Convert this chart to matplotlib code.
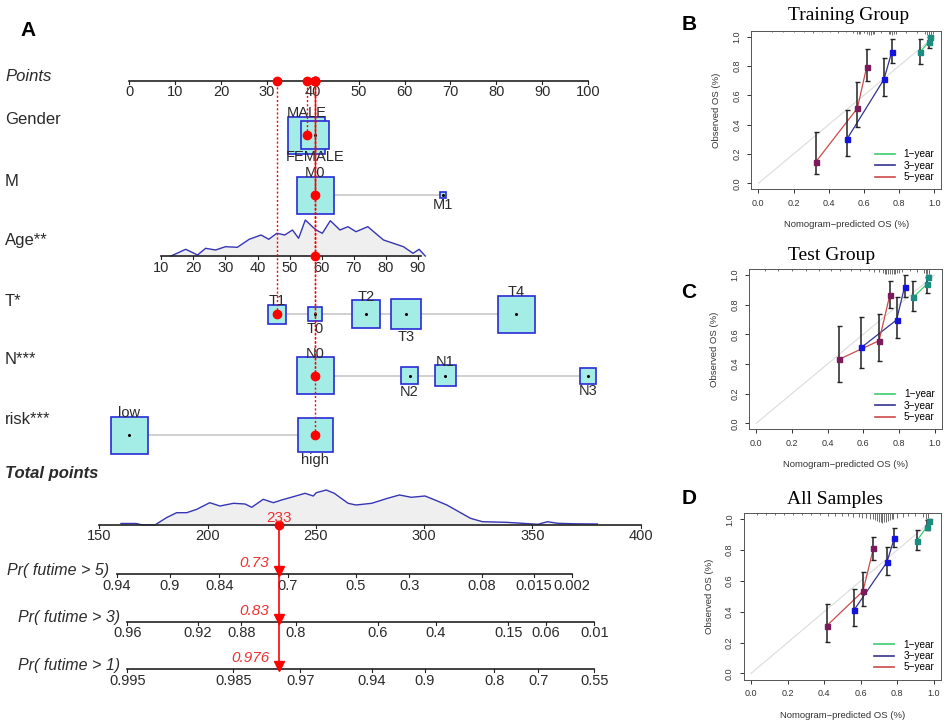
import numpy as np
import matplotlib
matplotlib.use("Agg")
import matplotlib.pyplot as plt
import matplotlib.transforms as mtrans
from matplotlib.patches import Rectangle
from matplotlib.lines import Line2D
from matplotlib.ticker import FormatStrFormatter

plt.rcParams['font.family'] = ['Liberation Sans', 'DejaVu Sans']
NARROW = ['Liberation Sans Narrow', 'Liberation Sans', 'DejaVu Sans']
SERIF = ['Liberation Serif', 'DejaVu Serif']

# ---------------- nomogram data (A) ----------------
points_ticks = list(range(0, 101, 10))

gender_levels = ['MALE', 'FEMALE']
gender_pts = [38.7, 40.5]
gender_n = [300, 172]

m_levels = ['M0', 'M1']
m_pts = [40.5, 68.4]
m_n = [460, 12]

t_levels = ['T1', 'T0', 'T2', 'T3', 'T4']
t_pts = [32.2, 40.5, 51.6, 60.4, 84.4]
t_n = [63, 34, 137, 158, 240]

n_levels = ['N0', 'N2', 'N1', 'N3']
n_pts = [40.5, 61.1, 68.9, 100.0]
n_n = [300, 63, 97, 56]

risk_levels = ['low', 'high']
risk_pts = [0.0, 40.5]
risk_n = [236, 211]

age_coef = 0.699          # points per year
age_ticks = list(range(10, 91, 10))
age_span = [10, 91]
age_x = [13, 17.6, 21.3, 23.8, 26.9, 30, 33.7, 37.4, 41.1, 43.5, 46, 48.5, 50.9, 52.8,
         54.9, 57.1, 58.3, 60.2, 62.7, 65.7, 68.2, 70.7, 74.4, 76.8, 79.3, 81.8, 85.5,
         88.5, 90.4, 92.3]
age_dens = [0, 6.7, 1, 7.7, 6, 9.3, 8.7, 16.7, 21, 16.7, 22.7, 21, 26, 17.7, 36, 29.3,
            26, 22.7, 35.3, 26, 29.3, 24.3, 29.3, 22.7, 16, 13.3, 9.3, 2.7, 6.7, 0]

# selected patient
sel_gender, sel_m, sel_age, sel_t, sel_n, sel_risk = 'MALE', 'M0', 58, 'T1', 'N0', 'high'
total_score = 233

total_ticks = list(range(150, 401, 50))
total_x = [160, 167, 170, 175.7, 181, 185.7, 190.4, 195, 201, 205.7, 212, 217.3, 220.4,
           225.7, 230.4, 234.2, 239.6, 245, 248.8, 250.2, 254.8, 258.5, 264.9, 268.5,
           275.8, 283.1, 288.6, 294.1, 300.4, 305, 310.5, 316, 321.4, 326.9, 337.9,
           345.2, 352.5, 357, 361.6, 370, 380]
total_dens = [1.5, 1.5, 0, 0, 7.3, 12.3, 12.3, 15.7, 22.3, 19, 21.7, 21, 17.7, 25.7,
              22.3, 25, 28.3, 31.7, 29, 32.3, 35, 31.7, 21.7, 20, 21.7, 26.7, 30, 27.7,
              29, 25, 20, 13.3, 6.7, 3.3, 2.7, 1.7, 0.7, 3.3, 1.7, 1.2, 1.0]

pr_names = ['Pr( futime > 5)', 'Pr( futime > 3)', 'Pr( futime > 1)']
pr5_labels = ['0.94', '0.9', '0.84', '0.7', '0.5', '0.3', '0.08', '0.015', '0.002']
pr5_at = [158.0, 182.6, 205.5, 237.1, 268.5, 293.1, 326.5, 350.6, 368.4]
pr3_labels = ['0.96', '0.92', '0.88', '0.8', '0.6', '0.4', '0.15', '0.06', '0.01']
pr3_at = [162.9, 195.4, 215.5, 240.7, 278.5, 305.4, 338.8, 356.1, 378.6]
pr1_labels = ['0.995', '0.985', '0.97', '0.94', '0.9', '0.8', '0.7', '0.55']
pr1_at = [162.9, 211.9, 242.9, 275.8, 300.4, 332.4, 352.8, 378.6]
pr_values = ['0.73', '0.83', '0.976']

# ---------------- calibration data (B, C, D) ----------------
years = ['1\u2212year', '3\u2212year', '5\u2212year']

train_1y = dict(pred=[0.918, 0.97, 0.975], obs=[0.894, 0.966, 0.998], lo=[0.816, 0.925, 0.99], hi=[0.982, 1.0, 1.0])
train_3y = dict(pred=[0.504, 0.714, 0.758], obs=[0.302, 0.709, 0.894], lo=[0.186, 0.595, 0.818], hi=[0.50, 0.853, 0.982])
train_5y = dict(pred=[0.327, 0.563, 0.616], obs=[0.147, 0.512, 0.795], lo=[0.063, 0.386, 0.698], hi=[0.352, 0.691, 0.914])

test_1y = dict(pred=[0.88, 0.956, 0.962], obs=[0.85, 0.937, 0.985], lo=[0.76, 0.877, 0.97], hi=[0.957, 0.989, 1.0])
test_3y = dict(pred=[0.59, 0.787, 0.832], obs=[0.512, 0.697, 0.921], lo=[0.37, 0.573, 0.854], hi=[0.719, 0.85, 1.0])
test_5y = dict(pred=[0.466, 0.689, 0.749], obs=[0.432, 0.557, 0.865], lo=[0.281, 0.422, 0.78], hi=[0.656, 0.737, 0.96])

all_1y = dict(pred=[0.908, 0.963, 0.973], obs=[0.861, 0.952, 0.989], lo=[0.80, 0.93, 0.975], hi=[0.93, 0.995, 1.0])
all_3y = dict(pred=[0.564, 0.744, 0.784], obs=[0.411, 0.721, 0.876], lo=[0.307, 0.638, 0.818], hi=[0.545, 0.822, 0.941])
all_5y = dict(pred=[0.415, 0.613, 0.67], obs=[0.309, 0.534, 0.811], lo=[0.205, 0.437, 0.736], hi=[0.45, 0.656, 0.887])

# spike histogram of predictions along the top
train_rug_x = [0.08, 0.14, 0.2, 0.26, 0.31, 0.36, 0.41, 0.45, 0.5, 0.54, 0.56, 0.57, 0.58, 0.6,
               0.62, 0.63, 0.64, 0.65, 0.66, 0.7, 0.74, 0.75, 0.76, 0.77, 0.78, 0.84, 0.9,
               0.95, 0.96, 0.97, 0.98, 0.99]
train_rug_h = [0.01, 0.01, 0.01, 0.01, 0.012, 0.01, 0.01, 0.012, 0.01, 0.015, 0.02, 0.02, 0.02, 0.015,
               0.025, 0.03, 0.03, 0.025, 0.02, 0.015, 0.02, 0.025, 0.03, 0.025, 0.02, 0.012, 0.015,
               0.02, 0.03, 0.035, 0.03, 0.02]
test_rug_x = [0.05, 0.12, 0.2, 0.28, 0.35, 0.42, 0.47, 0.53, 0.58, 0.63, 0.66, 0.69, 0.71, 0.72,
              0.73, 0.74, 0.75, 0.76, 0.77, 0.78, 0.79, 0.8, 0.82, 0.86, 0.9, 0.94, 0.95, 0.96, 0.97]
test_rug_h = [0.01, 0.01, 0.01, 0.01, 0.01, 0.012, 0.012, 0.012, 0.015, 0.015, 0.02, 0.02, 0.025, 0.03,
              0.03, 0.03, 0.03, 0.03, 0.03, 0.03, 0.025, 0.025, 0.02, 0.015, 0.02, 0.025, 0.03, 0.035, 0.03]
all_rug_x = [0.03, 0.08, 0.13, 0.18, 0.23, 0.28, 0.33, 0.38, 0.42, 0.46, 0.5, 0.53, 0.56, 0.59,
             0.61, 0.63, 0.65, 0.67, 0.68, 0.69, 0.7, 0.71, 0.72, 0.73, 0.74, 0.75, 0.76, 0.77,
             0.78, 0.8, 0.83, 0.86, 0.9, 0.94, 0.96, 0.97]
all_rug_h = [0.01, 0.01, 0.01, 0.01, 0.01, 0.01, 0.012, 0.012, 0.015, 0.015, 0.02, 0.02, 0.025, 0.025,
             0.03, 0.03, 0.035, 0.04, 0.045, 0.05, 0.055, 0.06, 0.065, 0.06, 0.055, 0.05, 0.045, 0.04,
             0.035, 0.03, 0.025, 0.02, 0.02, 0.025, 0.04, 0.03]

# ---------------- layout ----------------
W, H = 948, 728
PT0_PX, PX_PER_PT = 129.3, 4.587      # points axis: 0 -> px
TOT0_PX, PX_PER_TOT = 99.3, 2.1656    # total points axis: 150 -> px
BOX_MAX = 37.0
Y_POINTS, Y_GENDER, Y_M, Y_AGE, Y_T, Y_N, Y_RISK = 81, 135, 195, 256, 314.3, 375.7, 435
Y_TOTAL = 525
Y_PR = [574, 621.7, 669.3]

BOX_FC, BOX_EC = '#a3ede6', '#2a2ad6'
TXT = '#2a2a2a'

fig = plt.figure(figsize=(W / 100, H / 100), dpi=100)

ax = fig.add_axes([0, 0, 1, 1], label='nomo')
ax.set_xlim(-PT0_PX / PX_PER_PT, (W - PT0_PX) / PX_PER_PT)
ax.set_ylim(H, 0)
ax.axis('off')

axt = fig.add_axes([0, 0, 1, 1], label='total')
axt.set_xlim(150 - TOT0_PX / PX_PER_TOT, 150 + (W - TOT0_PX) / PX_PER_TOT)
axt.set_ylim(H, 0)
axt.axis('off')

lab_tr = mtrans.blended_transform_factory(fig.transFigure, ax.transData)


def row_label(text, y, **kw):
    ax.text(5 / W, y, text, transform=lab_tr, ha='left', va='center', fontsize=12,
            family=NARROW, color=TXT, **kw)


def draw_axis(a, y, lo, hi, ticks, labels, size=10.5):
    a.plot([lo, hi], [y, y], color='#222222', lw=1.2, zorder=3)
    for p, s in zip(ticks, labels):
        a.plot([p, p], [y, y + 3], color='#222222', lw=0.8, zorder=3)
        a.text(p, y + 11.5, s, ha='center', va='center', fontsize=size, family=NARROW, color=TXT)


def select(p, y):
    ax.plot([p, p], [y, Y_POINTS], color='red', ls=(0, (1.5, 1.5)), lw=1, zorder=5)
    ax.plot(p, y, 'o', color='red', ms=6, zorder=6)
    ax.plot(p, Y_POINTS, 'o', color='red', ms=6, zorder=6)


def draw_factor(y, levels, pts, n, chosen):
    sides = [BOX_MAX * np.sqrt(v / max(n)) for v in n]
    ax.plot([min(pts), max(pts)], [y, y], color='#c8c8c8', lw=1.2, zorder=1)
    order = np.argsort(pts, kind='stable')
    for rank, i in enumerate(order):
        s = sides[i]
        w = s / PX_PER_PT
        ax.add_patch(Rectangle((pts[i] - w / 2, y - s / 2), w, s, facecolor=BOX_FC,
                               edgecolor=BOX_EC, lw=1.2, zorder=2))
        ax.plot(pts[i], y, marker='o', ms=1.2, color='k', zorder=3)
        if rank % 2 == 0:
            ax.text(pts[i], y - s / 2 + 0.5, levels[i], ha='center', va='baseline',
                    fontsize=10.5, family=NARROW, color=TXT, zorder=4)
        else:
            ax.text(pts[i], y + s / 2 + 0.5, levels[i], ha='center', va='top',
                    fontsize=10.5, family=NARROW, color=TXT, zorder=4)
    select(pts[levels.index(chosen)], y)


# points axis
draw_axis(ax, Y_POINTS, 0, 100, points_ticks, [str(v) for v in points_ticks])
row_label('Points', Y_POINTS - 4.5, style='italic')

row_label('Gender', 120)
draw_factor(Y_GENDER, gender_levels, gender_pts, gender_n, sel_gender)
row_label('M', 181.7)
draw_factor(Y_M, m_levels, m_pts, m_n, sel_m)

# age
row_label('Age**', 240.7)
age_p = [a * age_coef for a in age_x]
dens = np.array(age_dens) / max(age_dens) * 36
ax.fill_between(age_p, Y_AGE, Y_AGE - dens, color='#efefef', lw=0, zorder=1)
ax.plot(age_p, Y_AGE - dens, color='#3535b5', lw=1, zorder=2)
draw_axis(ax, Y_AGE, age_span[0] * age_coef, age_span[1] * age_coef,
          [a * age_coef for a in age_ticks], [str(a) for a in age_ticks])
select(sel_age * age_coef, Y_AGE)

row_label('T*', 301.7)
draw_factor(Y_T, t_levels, t_pts, t_n, sel_t)
row_label('N***', 360)
draw_factor(Y_N, n_levels, n_pts, n_n, sel_n)
row_label('risk***', 420)
draw_factor(Y_RISK, risk_levels, risk_pts, risk_n, sel_risk)

# total points
row_label('Total points', 473.3, style='italic', weight='bold')
tdens = np.array(total_dens) / max(total_dens) * 35
axt.fill_between(total_x, Y_TOTAL, Y_TOTAL - tdens, color='#efefef', lw=0, zorder=1)
axt.plot(total_x, Y_TOTAL - tdens, color='#3535b5', lw=1, zorder=2)
draw_axis(axt, Y_TOTAL, total_ticks[0], total_ticks[-1], total_ticks, [str(v) for v in total_ticks])

pr_labels = [pr5_labels, pr3_labels, pr1_labels]
pr_at = [pr5_at, pr3_at, pr1_at]
for name, y, labs, at, val in zip(pr_names, Y_PR, pr_labels, pr_at, pr_values):
    draw_axis(axt, y, at[0], at[-1], at, labs)
    axt.text(at[0] - 3.5, y - 4, name, ha='right', va='center', fontsize=11.5,
             style='italic', family=NARROW, color=TXT)
    axt.plot(total_score, y - 3, marker='v', color='red', ms=7, zorder=6)
    axt.text(total_score - 4.5, y - 11, val, ha='right', va='center', fontsize=11,
             style='italic', family=NARROW, color='#f03030')

axt.plot([total_score, total_score], [Y_TOTAL, Y_PR[-1]], color='red', lw=1.2, zorder=5)
axt.plot(total_score, Y_TOTAL, 'o', color='red', ms=6, zorder=6)
axt.text(total_score, Y_TOTAL - 7.5, str(total_score), ha='center', va='center',
         fontsize=11, family=NARROW, color='#f03030', zorder=6)

fig.text(27.7 / W, 1 - 30 / H, 'A', fontsize=15, fontweight='bold', ha='center', va='center')

# ---------------- calibration panels ----------------
LINE_C = ['#3ccc6e', '#33338f', '#cc4a4a']
MARK_C = ['#1b8c80', '#1414dc', '#7a1b5c']


def calib(box, series, rug_x, rug_h, title, title_x, title_y, letter, letter_xy):
    left, right, top, bottom = box
    a = fig.add_axes([left / W, 1 - bottom / H, (right - left) / W, (bottom - top) / H])
    a.set_xlim(-0.04, 1.04)
    a.set_ylim(-0.04, 1.04)
    a.plot([0, 1], [0, 1], color='#dcdcdc', lw=0.8, zorder=1)
    for s, lc, mc in zip(series, LINE_C, MARK_C):
        pred, obs = np.array(s['pred']), np.array(s['obs'])
        lo, hi = np.array(s['lo']), np.array(s['hi'])
        a.plot(pred, obs, color=lc, lw=0.9, zorder=2)
        a.errorbar(pred, obs, yerr=[obs - lo, hi - obs], fmt='none', ecolor='#222222',
                   elinewidth=1.1, capsize=1.8, capthick=1, zorder=3)
        a.plot(pred, obs, 's', color=mc, ms=3.6, zorder=4)
    a.vlines(rug_x, 1.04 - np.array(rug_h), 1.04, color='#333333', lw=0.5, zorder=2)
    a.set_xticks([0, 0.2, 0.4, 0.6, 0.8, 1.0])
    a.set_yticks([0, 0.2, 0.4, 0.6, 0.8, 1.0])
    a.xaxis.set_major_formatter(FormatStrFormatter('%.1f'))
    a.yaxis.set_major_formatter(FormatStrFormatter('%.1f'))
    a.tick_params(labelsize=6.5, length=3, width=0.7, pad=4, colors='#333333')
    plt.setp(a.get_yticklabels(), rotation=90, va='center')
    for sp in a.spines.values():
        sp.set_color('#555555')
        sp.set_linewidth(0.7)
    a.set_xlabel('Nomogram\u2212predicted OS (%)', fontsize=6.8, labelpad=9, color='#333333')
    a.set_ylabel('Observed OS (%)', fontsize=6.8, labelpad=8, color='#333333')
    handles = [Line2D([], [], color=c, lw=1.2) for c in LINE_C]
    a.legend(handles, years, loc='lower right', frameon=False, fontsize=7.2,
             handlelength=2.0, handletextpad=0.9, labelspacing=0.15, borderaxespad=0.3)
    fig.text(title_x / W, 1 - title_y / H, title, family=SERIF, fontsize=14,
             ha='center', va='center')
    fig.text(letter_xy[0] / W, 1 - letter_xy[1] / H, letter, fontsize=15,
             fontweight='bold', ha='center', va='center')


calib((751.3, 941.3, 30.8, 189.2), [train_1y, train_3y, train_5y], train_rug_x, train_rug_h,
      'Training Group', 849, 15, 'B', (689, 25))
calib((749.1, 941.7, 269.1, 429.2), [test_1y, test_3y, test_5y], test_rug_x, test_rug_h,
      'Test Group', 832, 255, 'C', (689, 292))
calib((743.8, 940.9, 513.2, 679.5), [all_1y, all_3y, all_5y], all_rug_x, all_rug_h,
      'All Samples', 835, 500, 'D', (689, 498))

fig.savefig('out.png', dpi=100, facecolor='white')
